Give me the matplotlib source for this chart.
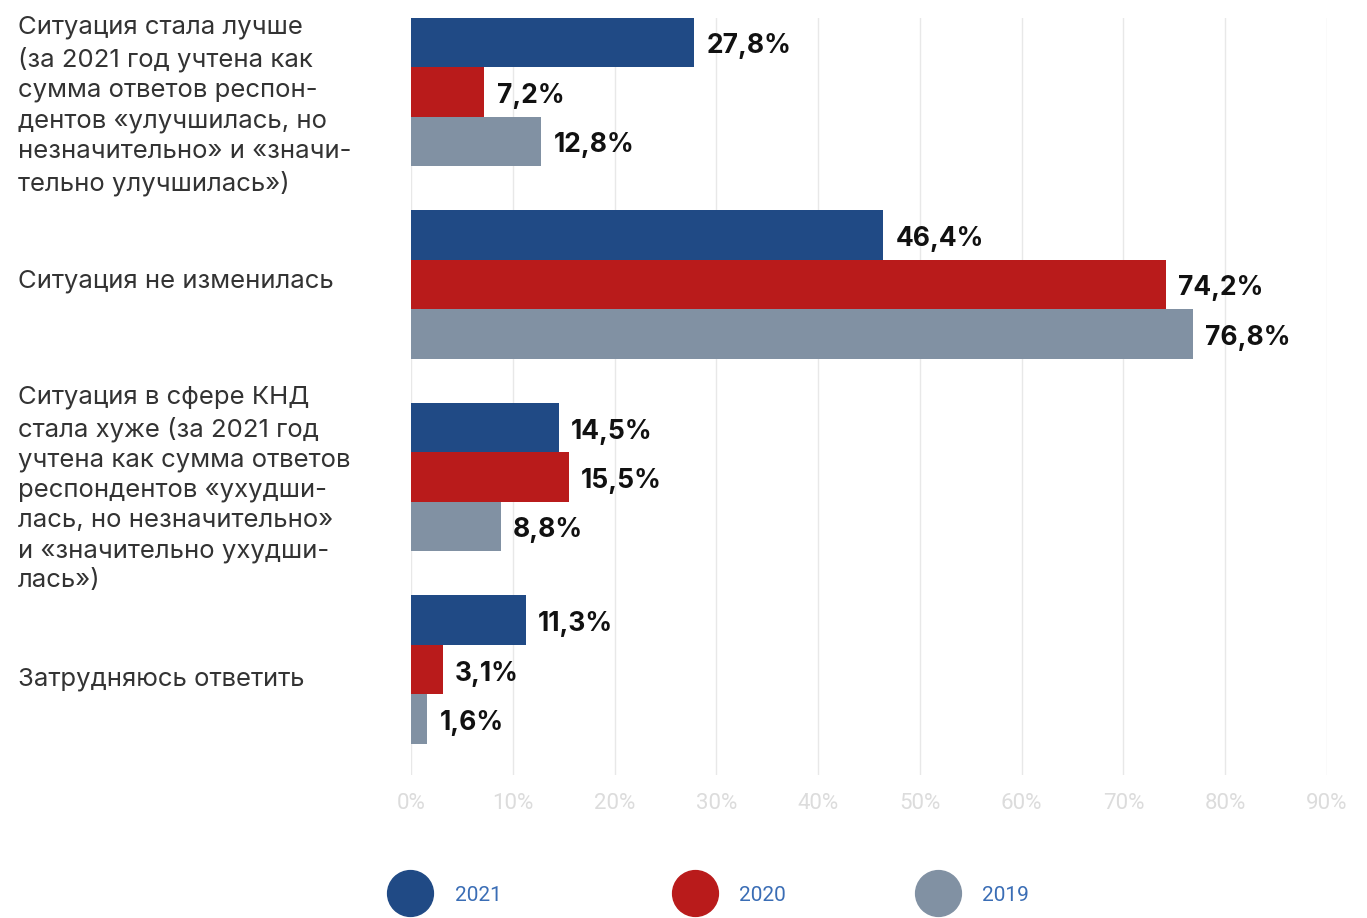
import numpy as np
import matplotlib.pyplot as plt
from matplotlib.lines import Line2D
from matplotlib.transforms import blended_transform_factory

categories = [
    "Ситуация стала лучше\n(за 2021 год учтена как\nсумма ответов респон-\nдентов «улучшилась, но\nнезначительно» и «значи-\nтельно улучшилась»)",
    "Ситуация не изменилась",
    "Ситуация в сфере КНД\nстала хуже (за 2021 год\nучтена как сумма ответов\nреспондентов «ухудши-\nлась, но незначительно»\nи «значительно ухудши-\nлась»)",
    "Затрудняюсь ответить",
]
years = ["2021", "2020", "2019"]
v2021 = [27.8, 46.4, 14.5, 11.3]
v2020 = [7.2, 74.2, 15.5, 3.1]
v2019 = [12.8, 76.8, 8.8, 1.6]
colors = ["#204a85", "#b91b1b", "#8191a3"]
xticks = [0, 10, 20, 30, 40, 50, 60, 70, 80, 90]

plt.rcParams['font.family'] = ['Inter', 'DejaVu Sans']

fig = plt.figure(figsize=(13.67, 9.18), dpi=100)
ax = fig.add_axes([0.3007, 0.1558, 0.6700, 0.8246])

y = np.arange(len(categories))
h = 0.257
series = [v2021, v2020, v2019]
for i, vals in enumerate(series):
    pos = y - h + i * h
    ax.barh(pos, vals, height=h, color=colors[i], zorder=2)
    for p, v in zip(pos, vals):
        ax.text(v + 1.2, p + 0.02, f"{v:.1f}%".replace(".", ","), va='center', ha='left',
                fontsize=19, fontweight='bold', color='#111111')

ax.set_xlim(0, 90)
ax.set_ylim(3.547, -0.385)
ax.set_xticks(xticks)
ax.set_xticklabels([f"{t}%" for t in xticks], fontsize=16, color='#dcdcdc', family=['Roboto', 'DejaVu Sans'])
ax.tick_params(axis='x', length=0, pad=13)
ax.set_yticks([])
ax.grid(axis='x', color='#e8e8e8', linewidth=1, zorder=0)
for s in ax.spines.values():
    s.set_visible(False)

# category captions sit left of the axes
tr = blended_transform_factory(fig.transFigure, ax.transData)
shift = [0.07, -0.02, 0.06, 0.05]
for yy, c, d in zip(y, categories, shift):
    ax.text(0.013, yy + d, c, transform=tr, ha='left', va='center', fontsize=18.5,
            color='#333333', linespacing=1.38)

lx = [0.285, 0.493, 0.671]
for i, yr in enumerate(years):
    handle = Line2D([], [], marker='o', linestyle='none', markersize=33, color=colors[i])
    fig.legend([handle], [yr], loc='center left', bbox_to_anchor=(lx[i], 0.025),
               frameon=False, handletextpad=1.13, borderpad=0, borderaxespad=0,
               labelcolor='#3a6db5', prop={'family': 'Roboto', 'size': 15})

fig.savefig("out.png", dpi=100)
